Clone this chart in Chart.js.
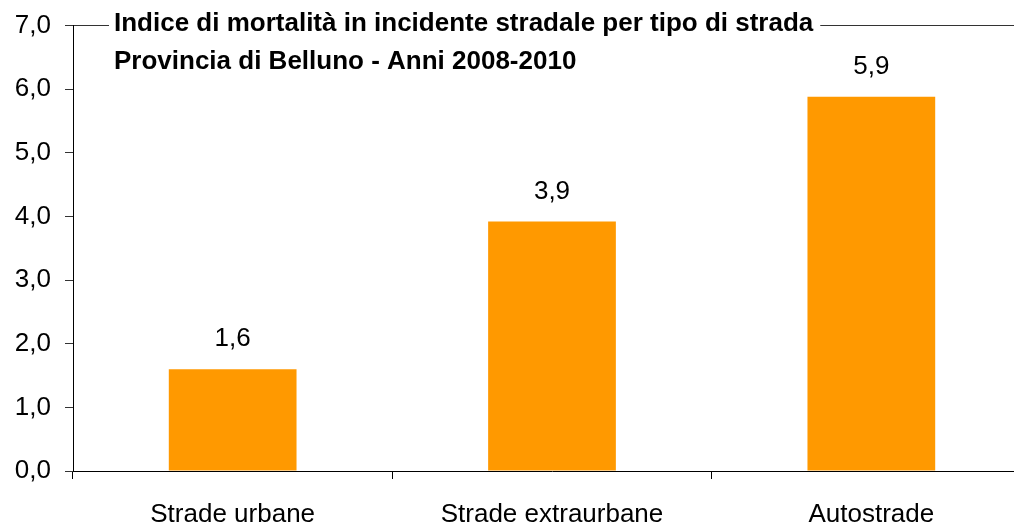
<!DOCTYPE html>
<html>
<head>
<meta charset="utf-8">
<script src="https://cdn.jsdelivr.net/npm/chart.js@4.4.0/dist/chart.umd.min.js"></script>
<style>
  html, body { margin: 0; padding: 0; background: #fff; overflow: hidden; }
  #wrap { position: relative; width: 1031px; height: 527px; margin-top: -4px; }
</style>
</head>
<body>
<div id="wrap"><canvas id="c"></canvas></div>
<script>
const categories = ["Strade urbane", "Strade extraurbane", "Autostrade"];
const values = [1.6, 3.92, 5.88];
const titleLines = [
  "Indice di mortalità in incidente stradale per tipo di strada",
  "Provincia di Belluno - Anni 2008-2010"
];
const yMin = 0, yMax = 7, yStep = 1;

const FONT = "'Liberation Sans', Arial, sans-serif";
const fmt = v => v.toFixed(1).replace('.', ',');

const labelPlugin = {
  id: 'barLabels',
  afterDatasetsDraw(chart) {
    const ctx = chart.ctx;
    const meta = chart.getDatasetMeta(0);
    ctx.save();
    ctx.font = "26px " + FONT;
    ctx.fillStyle = "#000";
    ctx.textAlign = "center";
    ctx.textBaseline = "middle";
    meta.data.forEach((bar, i) => {
      ctx.fillText(fmt(values[i]), bar.x, bar.y - 30);
    });
    ctx.restore();
  }
};

const titlePlugin = {
  id: 'boxTitle',
  afterDraw(chart) {
    const ctx = chart.ctx;
    ctx.save();
    ctx.font = "bold 26px " + FONT;
    const x = 114;
    const top = chart.chartArea.top;
    const w = Math.max(...titleLines.map(t => ctx.measureText(t).width));
    ctx.fillStyle = "#fff";
    ctx.fillRect(x - 5, top - 20, w + 12, 38);
    ctx.fillStyle = "#000";
    ctx.textAlign = "left";
    ctx.textBaseline = "middle";
    titleLines.forEach((t, i) => ctx.fillText(t, x, top - 2 + i * 38));
    ctx.restore();
  }
};

new Chart(document.getElementById('c'), {
  type: 'bar',
  data: {
    labels: categories,
    datasets: [{
      data: values,
      backgroundColor: '#FF9900',
      borderWidth: 0,
      barPercentage: 0.4,
      categoryPercentage: 1.0
    }]
  },
  options: {
    responsive: true,
    maintainAspectRatio: false,
    animation: false,
    layout: { padding: { top: 10, left: 0, right: 0, bottom: 0 } },
    plugins: { legend: { display: false }, tooltip: { enabled: false }, title: { display: false } },
    scales: {
      x: {
        offset: true,
        grid: {
          offset: true,
          drawOnChartArea: false,
          drawTicks: true,
          tickLength: 8,
          tickColor: '#000',
          lineWidth: 1
        },
        border: { display: true, color: '#000', width: 1 },
        ticks: { color: '#000', font: { family: FONT, size: 26 }, padding: 20, maxRotation: 0 },
        afterFit(scale) { scale.height = 52; }
      },
      y: {
        min: yMin, max: yMax,
        grid: {
          drawOnChartArea: true,
          color: ctx => (ctx.tick && ctx.tick.value === yMax) ? '#333' : 'rgba(0,0,0,0)',
          tickColor: '#333',
          tickLength: 8,
          lineWidth: 1
        },
        border: { display: true, color: '#000', width: 1 },
        ticks: {
          stepSize: yStep,
          color: '#000',
          font: { family: FONT, size: 26 },
          padding: 14,
          callback: v => fmt(v)
        },
        afterFit(scale) { scale.width = 73; }
      }
    }
  },
  plugins: [labelPlugin, titlePlugin]
});
</script>
</body>
</html>
